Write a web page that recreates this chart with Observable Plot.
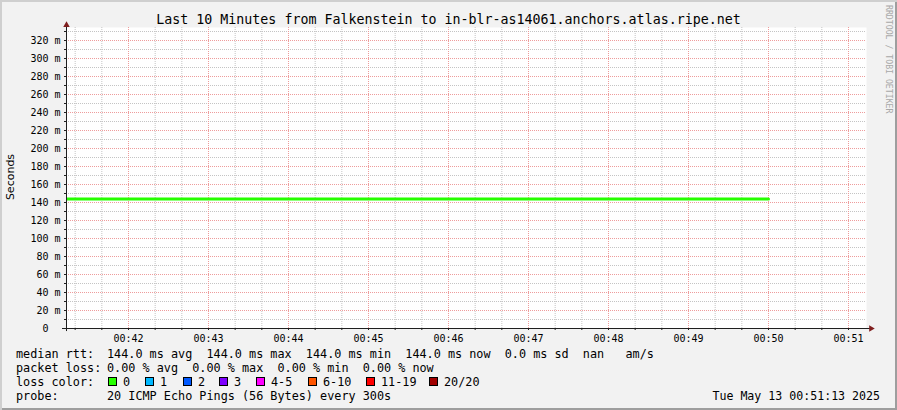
<!DOCTYPE html>
<html>
<head>
<meta charset="utf-8">
<script src="https://cdn.jsdelivr.net/npm/d3@7"></script>
<script src="https://cdn.jsdelivr.net/npm/@observablehq/plot@0.6"></script>
<style>
html, body { margin: 0; padding: 0; background: #f2f2f2; }
#chart { position: relative; width: 897px; height: 410px; background: #f2f2f2;
  box-shadow: inset 2px 2px 0 #cfcfcf, inset -2px -2px 0 #9e9e9e; overflow: hidden; }
#chart svg { position: absolute; left: 0; top: 0; }
</style>
</head>
<body>
<div id="chart"></div>
<script>
// ---------- data ----------
const title = "Last 10 Minutes from Falkenstein to in-blr-as14061.anchors.atlas.ripe.net";
const yLabel = "Seconds";
const watermark = "RRDTOOL / TOBI OETIKER";
const viewStart = "2025-05-13T00:41:13.5Z";
const viewEnd = "2025-05-13T00:51:13.5Z";
const sampleTimes = ["2025-05-13T00:40:00Z", "2025-05-13T00:45:00Z", "2025-05-13T00:50:00Z"];
const medianRtt = [144.0, 144.0, 144.0];
const xTickLabels = ["00:42", "00:43", "00:44", "00:45", "00:46", "00:47", "00:48", "00:49", "00:50", "00:51"];
const yTickValues = [0, 20, 40, 60, 80, 100, 120, 140, 160, 180, 200, 220, 240, 260, 280, 300, 320];
const yUnit = "m";
const rttStats = [144.0, 144.0, 144.0, 144.0]; // avg, max, min, now
const rttSd = 0.0;
const lossStats = [0.0, 0.0, 0.0, 0.0]; // avg, max, min, now
const lossLabels = ["0", "1", "2", "3", "4-5", "6-10", "11-19", "20/20"];
const lossColors = ["#26ff00", "#00b8ff", "#0059ff", "#7e00ff", "#ff00ff", "#ff5500", "#ff0000", "#a10000"];
const probeText = "20 ICMP Echo Pings (56 Bytes) every 300s";
const dateText = "Tue May 13 00:51:13 2025";

// ---------- build ----------
const mono = "'DejaVu Sans Mono', 'Liberation Mono', monospace";
const x0 = new Date(viewStart), x1 = new Date(viewEnd);
const yMax = 301 / 0.9;
const series = sampleTimes.map((t, i) => ({t: new Date(t), v: medianRtt[i]}));
const majorX = xTickLabels.map(l => new Date(`2025-05-13T${l}:00Z`));
const minorX = d3.utcSecond.every(20).range(x0, x1);
const minorY = d3.range(10, yMax, 10);
const majorYGrid = yTickValues.filter(v => v > 0);
const yFmt = d => d === 0 ? "0\u00a0\u00a0" : `${d}\u00a0${yUnit}`;
const sec = s => new Date(+x0 + s * 1000);

const axisColor = "#1f1f1f";
const arrowColor = "#801f1f";

const plot = Plot.plot({
  width: 897,
  height: 410,
  marginLeft: 66,
  marginRight: 31,
  marginTop: 27,
  marginBottom: 82,
  x: {type: "utc", domain: [x0, x1], label: null},
  y: {domain: [0, yMax], label: null},
  style: {background: "transparent", fontFamily: mono, fontSize: "10px", color: "#000", overflow: "visible"},
  marks: [
    Plot.frame({fill: "white", stroke: "none"}),
    Plot.gridY(minorY, {stroke: "#c4c4c4", strokeOpacity: 1, strokeDasharray: "1,1"}),
    Plot.gridX(minorX, {stroke: "#c4c4c4", strokeOpacity: 1, strokeDasharray: "1,1"}),
    Plot.gridY(majorYGrid, {stroke: "#ee9c9c", strokeOpacity: 1, strokeDasharray: "1,1"}),
    Plot.gridX(majorX, {stroke: "#ee9c9c", strokeOpacity: 1, strokeDasharray: "1,1"}),
    Plot.lineY(series, {x: "t", y: "v", stroke: lossColors[0], strokeWidth: 3, clip: true}),
    // axis lines
    Plot.ruleY([0], {x1: sec(-3), x2: sec(603), stroke: axisColor}),
    Plot.ruleX([x0], {y1: -3.4, y2: 337.5, stroke: axisColor}),
    Plot.dot([0], {x: sec(603.4), y: 0, symbol: "triangle", r: 2.4, fill: arrowColor, rotate: 90}),
    Plot.dot([0], {x: x0, y: 337.2, symbol: "triangle", r: 2.4, fill: arrowColor}),
    // ticks and labels
    Plot.axisX(minorX, {tickSize: 2, tickFormat: () => "", stroke: axisColor, label: null}),
    Plot.axisX(majorX, {tickSize: 2, tickPadding: 4, tickFormat: d3.utcFormat("%H:%M"), stroke: axisColor, label: null}),
    Plot.axisY(minorY, {tickSize: 2, tickFormat: () => "", stroke: axisColor, label: null}),
    Plot.axisY(yTickValues, {tickSize: 2, tickPadding: 4, tickFormat: yFmt, stroke: axisColor, label: null})
  ]
});

document.getElementById("chart").appendChild(plot);
const svg = d3.select(plot);

// title
svg.append("text").attr("x", 448.5).attr("y", 24).attr("text-anchor", "middle")
  .style("font-family", mono).style("font-size", "13.3px").attr("fill", "#000").text(title);

// y label
svg.append("text").attr("transform", "translate(14,177) rotate(-90)").attr("text-anchor", "middle")
  .style("font-family", "'DejaVu Sans', sans-serif").style("font-size", "11px").attr("fill", "#000").text(yLabel);

// watermark
svg.append("text").attr("transform", "translate(885.5,5) rotate(90)").attr("text-anchor", "start")
  .style("font-family", mono).style("font-size", "8.2px").attr("fill", "#a8a8a8").text(watermark);

// legend
const legFont = "11.8px";
const leg = svg.append("g").attr("text-anchor", "start").style("font-family", mono)
  .style("font-size", legFont).style("white-space", "pre").attr("fill", "#000");
const f1 = v => v.toFixed(1), f2 = v => v.toFixed(2);
const row1 = `${f1(rttStats[0])} ms avg  ${f1(rttStats[1])} ms max  ${f1(rttStats[2])} ms min  ${f1(rttStats[3])} ms now  ${f1(rttSd)} ms sd  nan   am/s`;
const row2 = `${f2(lossStats[0])} % avg  ${f2(lossStats[1])} % max  ${f2(lossStats[2])} % min  ${f2(lossStats[3])} % now`;
const rows = [["median rtt:", row1, 358], ["packet loss:", row2, 372], ["loss color:", null, 386], ["probe:", probeText, 400]];
for (const [lab, val, y] of rows) {
  leg.append("text").attr("x", 16).attr("y", y).attr("text-anchor", "start").text(lab);
  if (val) leg.append("text").attr("x", 107).attr("y", y).attr("text-anchor", "start").text(val);
}
const boxX = [108, 145, 183, 219, 256, 308, 366, 429];
lossLabels.forEach((l, i) => {
  leg.append("rect").attr("x", boxX[i] + 0.5).attr("y", 377.5).attr("width", 8).attr("height", 8)
    .attr("fill", lossColors[i]).attr("stroke", "#000").attr("stroke-width", 1);
  leg.append("text").attr("x", boxX[i] + 15).attr("y", 386).attr("text-anchor", "start").text(l);
});
leg.append("text").attr("x", 880).attr("y", 400).attr("text-anchor", "end").style("font-size", "11.6px").text(dateText);
</script>
</body>
</html>
